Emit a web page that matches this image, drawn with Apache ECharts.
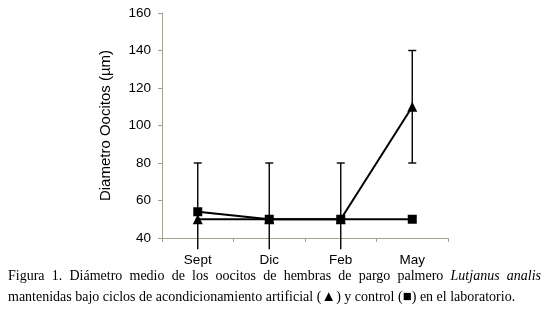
<!DOCTYPE html>
<html lang="es">
<head>
<meta charset="utf-8">
<title>Diámetro de oocitos</title>
<script src="https://cdn.jsdelivr.net/npm/echarts@6/dist/echarts.min.js"></script>
<style>
  body { margin: 0; background: #fff; }
  #main { position: absolute; left: 0; top: 0; width: 549px; height: 309px; }
  .cap { position: absolute; left: 8px; width: 533px; font-family: "Liberation Serif", "Times New Roman", serif; font-size: 14px; color: #000; white-space: nowrap; }
  #cap1 { top: 268px; text-align: justify; text-align-last: justify; }
  #cap2 { top: 288px; }
  .sym { font-size: 15px; }
</style>
</head>
<body>
<div id="main"></div>
<div class="cap" id="cap1">Figura 1. Diámetro medio de los oocitos de hembras de pargo palmero <i>Lutjanus analis</i></div>
<div class="cap" id="cap2">mantenidas bajo ciclos de acondicionamiento artificial (<span class="sym">▲</span>) y control (<span class="sym">■</span>) en el laboratorio.</div>
<script>
// datos
var meses = ['Sept', 'Dic', 'Feb', 'May'];
var artificial = [50, 50, 50, 110];
var control = [54, 50, 50, 50];
// barras de error (limite superior / inferior)
var artAlto = [80, 80, 80, 140];
var artBajo = [34, 34, 34, 80];
var ctrlAlto = [54, 50, 50, 51.5];
var ctrlBajo = [54, 50, 50, 48.5];

var yMin = 40;
var chart = echarts.init(document.getElementById('main'));

function barras(alto, bajo) {
  return meses.map(function (m, i) { return [i, bajo[i], alto[i]]; });
}

function dibujarError(params, api) {
  var x = api.value(0);
  var lo = api.coord([x, api.value(1)]);
  var hi = api.coord([x, api.value(2)]);
  if (Math.abs(lo[1] - hi[1]) < 0.5) return;
  var w = 4;
  var st = { stroke: '#000', lineWidth: 1.4 };
  var hijos = [
    { type: 'line', shape: { x1: lo[0], y1: lo[1], x2: hi[0], y2: hi[1] }, style: st },
    { type: 'line', shape: { x1: hi[0] - w, y1: hi[1], x2: hi[0] + w, y2: hi[1] }, style: st }
  ];
  // sin tope cuando la barra sale por debajo del eje
  if (api.value(1) >= yMin) {
    hijos.push({ type: 'line', shape: { x1: lo[0] - w, y1: lo[1], x2: lo[0] + w, y2: lo[1] }, style: st });
  }
  return { type: 'group', children: hijos };
}

var ejeColor = '#a3a394';

var option = {
  animation: false,
  grid: { left: 162, right: 101, top: 13, bottom: 71 },
  xAxis: {
    type: 'category',
    data: meses,
    boundaryGap: true,
    axisLine: { lineStyle: { color: ejeColor, width: 1 } },
    axisTick: { show: true, inside: false, length: 4, lineStyle: { color: ejeColor } },
    axisLabel: { color: '#000', fontFamily: 'Liberation Sans, Arial', fontSize: 13.5, margin: 15 }
  },
  yAxis: {
    type: 'value',
    min: yMin, max: 160, interval: 20,
    name: 'Diametro Oocitos (µm)',
    nameLocation: 'middle',
    nameGap: 49,
    nameTextStyle: { color: '#000', fontFamily: 'Liberation Sans, Arial', fontSize: 15 },
    splitLine: { show: false },
    axisLine: { show: true, lineStyle: { color: ejeColor, width: 1 } },
    axisTick: { show: true, inside: false, length: 4, lineStyle: { color: ejeColor } },
    axisLabel: { color: '#000', fontFamily: 'Liberation Sans, Arial', fontSize: 13.5, margin: 11 }
  },
  series: [
    {
      type: 'custom',
      renderItem: dibujarError,
      data: barras(artAlto, artBajo),
      clip: false,
      z: 1
    },
    {
      type: 'custom',
      renderItem: dibujarError,
      data: barras(ctrlAlto, ctrlBajo),
      clip: false,
      z: 1
    },
    {
      name: 'artificial',
      type: 'line',
      data: artificial,
      symbol: 'triangle',
      symbolSize: 10,
      lineStyle: { color: '#000', width: 2 },
      itemStyle: { color: '#000' },
      z: 3
    },
    {
      name: 'control',
      type: 'line',
      data: control,
      symbol: 'rect',
      symbolSize: 9,
      lineStyle: { color: '#000', width: 1.8 },
      itemStyle: { color: '#000' },
      z: 4
    }
  ]
};
chart.setOption(option);
</script>
</body>
</html>
